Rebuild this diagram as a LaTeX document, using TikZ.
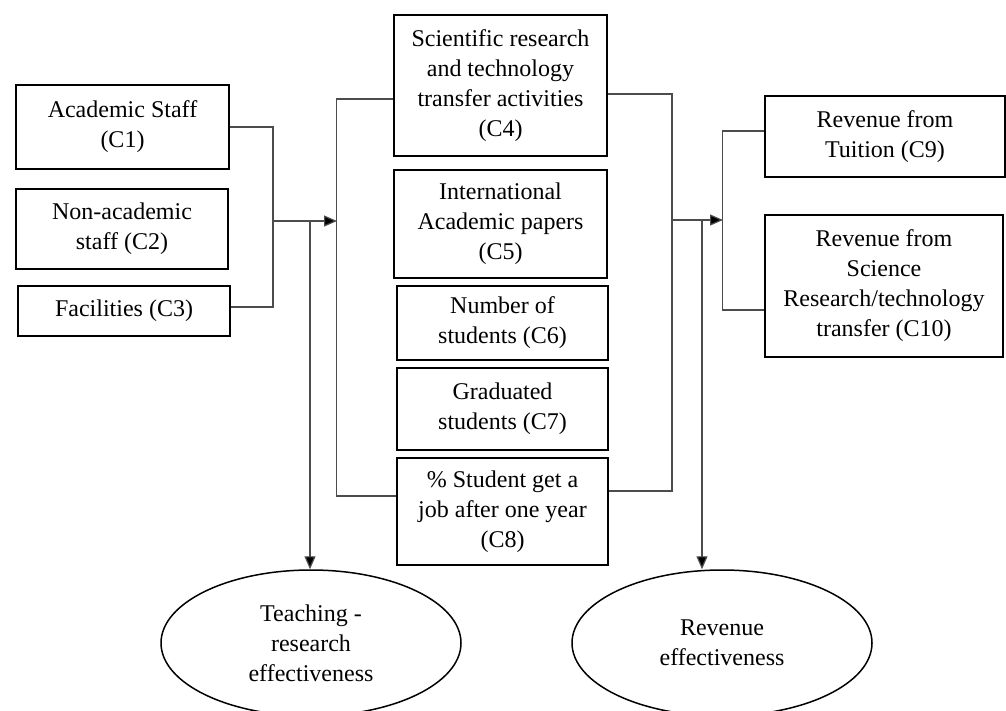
\documentclass[tikz,border=0pt]{standalone}
\usepackage{fontspec}
\setmainfont{Liberation Serif}
\usetikzlibrary{shapes.geometric,arrows.meta}
\begin{document}
\begin{tikzpicture}[x=1pt,y=-1pt,
  box/.style={draw=black, line width=1.8pt, align=center, inner sep=0pt, font=\fontsize{24}{30}\selectfont},
  oval/.style={ellipse, draw=black, line width=1.5pt, align=center, inner sep=0pt, minimum width=300pt, minimum height=146pt, font=\fontsize{24}{30}\selectfont},
  link/.style={draw=black!70, line width=1.2pt},
  arr/.style={link, -{Triangle[length=13pt,width=11pt,fill=black]}}]
\useasboundingbox (0,0) rectangle (1006,710);
\clip (0,0) rectangle (1006,710);
\fill[white] (0,0) rectangle (1006,710);

% left column
\node[box, minimum width=213pt, minimum height=84pt] (C1) at (122.5,127) {Academic Staff\\(C1)};
\node[box, minimum width=212pt, minimum height=80pt] (C2) at (122,229) {Non-academic\\staff (C2)};
\node[box, minimum width=212pt, minimum height=50pt] (C3) at (124,311) {Facilities (C3)};

% middle column
\node[box, minimum width=213pt, minimum height=141pt] (C4) at (500.5,85.5) {Scientific research\\and technology\\transfer activities\\(C4)};
\node[box, minimum width=213pt, minimum height=108pt] (C5) at (500.5,224) {International\\Academic papers\\(C5)};
\node[box, minimum width=211pt, minimum height=74pt] (C6) at (502.5,323) {Number of\\students (C6)};
\node[box, minimum width=211pt, minimum height=82pt] (C7) at (502.5,409) {Graduated\\students (C7)};
\node[box, minimum width=211pt, minimum height=107pt] (C8) at (502.5,511.5) {\%~Student get a\\job after one year\\(C8)};

% right column
\node[box, minimum width=240pt, minimum height=81pt] (C9) at (885,136.5) {Revenue from\\Tuition (C9)};
\node[box, minimum width=238pt, minimum height=142pt] (C10) at (884,286) {Revenue from\\Science\\Research/technology\\transfer (C10)};

% outcomes
\node[oval] (E1) at (311,643) {Teaching -\\research\\effectiveness};
\node[oval] (E2) at (722,643) {Revenue\\effectiveness};

% junction coordinates
\coordinate (jl) at (273,221);
\coordinate (bl) at (310,221);
\coordinate (al) at (337,221);
\coordinate (jr) at (672,220);
\coordinate (br) at (702,220);
\coordinate (ar) at (723,220);

% left inputs
\draw[link] (C1.east) -| (jl);
\draw[link] ([yshift=4pt]C3.east) -| (jl);
\draw[link] (jl) -- (bl);
\draw[arr] (bl) -- (al);
\draw[arr] (bl) -- (bl |- E1.north);

% middle bracket left
\draw[link] ([yshift=-13.5pt]C4.west) -- ++(-57,0) |- ([yshift=15.5pt]C8.west);
% middle bracket right
\draw[link] ([yshift=-8.5pt]C4.east) -| (jr) |- ([yshift=20.5pt]C8.east);
\draw[link] (jr) -- (br);
\draw[arr] (br) -- (ar);
\draw[arr] (br) -- (br |- E2.north);

% right bracket
\draw[link] ([yshift=5.5pt]C9.west) -- ++(-42,0) |- ([yshift=-24pt]C10.west);
\end{tikzpicture}
\end{document}
